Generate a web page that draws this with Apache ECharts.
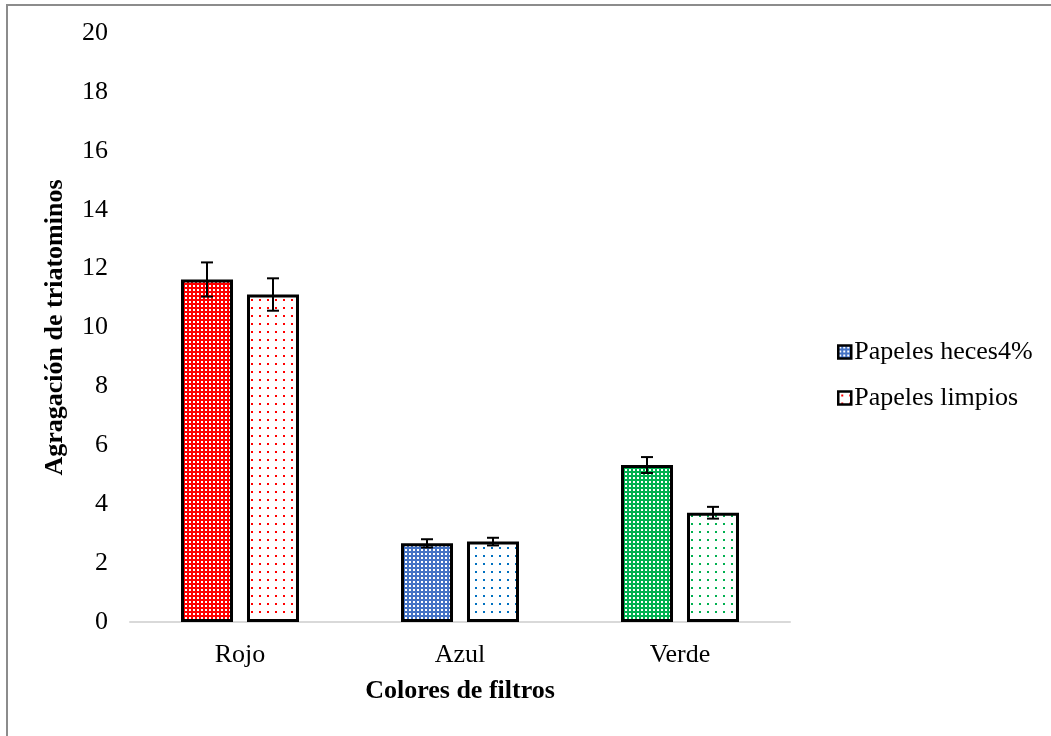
<!DOCTYPE html>
<html>
<head>
<meta charset="utf-8">
<script src="https://cdn.jsdelivr.net/npm/echarts@6/dist/echarts.min.js"></script>
<style>
  html, body { margin: 0; padding: 0; background: #fff; }
  #chart { width: 1051px; height: 736px; }
</style>
</head>
<body>
<div id="chart"></div>
<script>
// Filter colours tested and mean aggregation with standard error
const categories = ['Rojo', 'Azul', 'Verde'];
const hecesValues = [11.63, 2.67, 5.33];
const hecesErrors = [0.58, 0.14, 0.27];
const limpiosValues = [11.12, 2.73, 3.71];
const limpiosErrors = [0.55, 0.13, 0.2];
const seriesNames = ['Papeles heces4%', 'Papeles limpios'];

const solidColors = ['#FF0000', '#4472C4', '#00B050'];
const dotColors = ['#FF0000', '#0070C0', '#00B050'];

// Dense white dots on a solid fill
function densePattern(color) {
  const c = document.createElement('canvas');
  c.width = 4; c.height = 4;
  const g = c.getContext('2d');
  g.fillStyle = color;
  g.fillRect(0, 0, 4, 4);
  g.fillStyle = '#ffffff';
  g.fillRect(1, 1, 2, 2);
  return c;
}
// Sparse coloured dots on white
function sparsePattern(color) {
  const c = document.createElement('canvas');
  c.width = 8; c.height = 8;
  const g = c.getContext('2d');
  g.fillStyle = '#ffffff';
  g.fillRect(0, 0, 8, 8);
  g.fillStyle = color;
  g.fillRect(3, 3, 2, 2);
  return c;
}
function pat(canvas) { return { image: canvas, repeat: 'repeat' }; }

const BAR_W = 52;
const GAP = 14;
const OFF = (BAR_W + GAP) / 2;
const CAP = 12;
const FS = 26;
const font = '"Liberation Serif", "Times New Roman", serif';

const chart = echarts.init(document.getElementById('chart'));

function errorSeries(values, errors, dir) {
  return {
    type: 'custom',
    silent: true,
    z: 10,
    data: values.map((v, i) => [i, v - errors[i], v + errors[i]]),
    renderItem: function (params, api) {
      const lo = api.coord([api.value(0), api.value(1)]);
      const hi = api.coord([api.value(0), api.value(2)]);
      const x = lo[0] + dir * OFF;
      const style = { stroke: '#000', lineWidth: 2 };
      return {
        type: 'group',
        children: [
          { type: 'line', shape: { x1: x, y1: hi[1], x2: x, y2: lo[1] }, style },
          { type: 'line', shape: { x1: x - CAP / 2, y1: hi[1], x2: x + CAP / 2, y2: hi[1] }, style },
          { type: 'line', shape: { x1: x - CAP / 2, y1: lo[1], x2: x + CAP / 2, y2: lo[1] }, style }
        ]
      };
    }
  };
}

chart.setOption({
  animation: false,
  backgroundColor: '#ffffff',
  textStyle: { fontFamily: font },
  graphic: [{
    type: 'rect',
    shape: { x: 7, y: 5, width: 1200, height: 900 },
    style: { fill: 'none', stroke: '#8c8c8c', lineWidth: 2 },
    silent: true
  }],
  grid: { left: 130, right: 261, top: 33, bottom: 114 },
  legend: {
    orient: 'vertical',
    left: 832,
    top: 334,
    itemWidth: 13,
    itemHeight: 13,
    itemGap: 20,
    textStyle: { fontFamily: font, fontSize: FS, color: '#000', padding: [0, 0, 0, -2] },
    data: [
      { name: seriesNames[0], icon: 'rect', itemStyle: { color: pat(densePattern(solidColors[1])), borderColor: '#000', borderWidth: 2.5 } },
      { name: seriesNames[1], icon: 'rect', itemStyle: { color: pat(sparsePattern(dotColors[0])), borderColor: '#000', borderWidth: 2.5 } }
    ]
  },
  xAxis: {
    type: 'category',
    data: categories,
    axisLine: { lineStyle: { color: '#d9d9d9', width: 2 } },
    axisTick: { show: false },
    axisLabel: { fontFamily: font, fontSize: FS, color: '#000', margin: 20 },
    name: 'Colores de filtros',
    nameLocation: 'middle',
    nameGap: 56,
    nameTextStyle: { fontFamily: font, fontSize: FS, fontWeight: 'bold', color: '#000' }
  },
  yAxis: {
    type: 'value',
    min: 0,
    max: 20,
    interval: 2,
    splitLine: { show: false },
    axisLine: { show: false },
    axisTick: { show: false },
    axisLabel: { fontFamily: font, fontSize: FS, color: '#000', margin: 22 },
    name: 'Agragación de triatominos',
    nameLocation: 'middle',
    nameGap: 62,
    nameTextStyle: { fontFamily: font, fontSize: FS, fontWeight: 'bold', color: '#000' }
  },
  series: [
    {
      name: seriesNames[0],
      type: 'bar',
      barWidth: BAR_W,
      barGap: (GAP / BAR_W * 100).toFixed(1) + '%',
      data: hecesValues.map((v, i) => ({
        value: v,
        itemStyle: { color: pat(densePattern(solidColors[i])), borderColor: '#000', borderWidth: 3 }
      }))
    },
    {
      name: seriesNames[1],
      type: 'bar',
      barWidth: BAR_W,
      data: limpiosValues.map((v, i) => ({
        value: v,
        itemStyle: { color: pat(sparsePattern(dotColors[i])), borderColor: '#000', borderWidth: 3 }
      }))
    },
    errorSeries(hecesValues, hecesErrors, -1),
    errorSeries(limpiosValues, limpiosErrors, 1)
  ]
});
</script>
</body>
</html>
